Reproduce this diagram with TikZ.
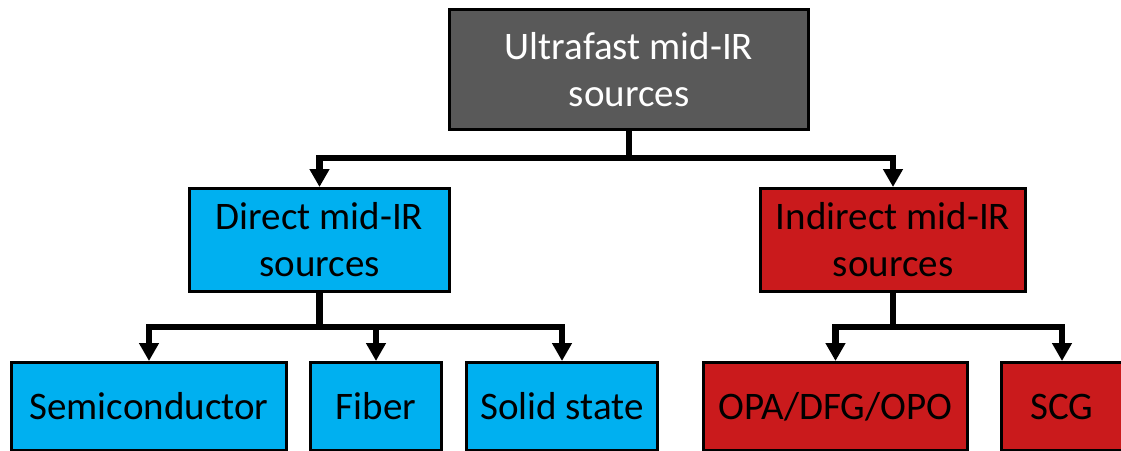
\documentclass[tikz,border=0pt]{standalone}
\usepackage{fontspec}
\setmainfont{Carlito}
\usetikzlibrary{arrows.meta}
\definecolor{topgray}{HTML}{595959}
\definecolor{dirblue}{HTML}{00B0F0}
\definecolor{indred}{HTML}{CA1A1C}
\tikzset{
  box/.style={draw=black, line width=3pt, inner sep=0pt, align=center,
    font=\fontsize{39}{47}\selectfont},
  conn/.style={line width=6.5pt, -{Triangle[width=19pt,length=18pt]}},
  plain/.style={line width=6.5pt}
}
\begin{document}
\begin{tikzpicture}[x=1pt,y=-1pt]
\useasboundingbox (0,0) rectangle (1121,450);
\clip (0,0) rectangle (1121,450);
\node[box, fill=topgray, text=white, minimum width=359pt, minimum height=120pt] (top) at (629,69.5) {Ultrafast mid-IR\\sources};
\node[box, fill=dirblue, minimum width=260pt, minimum height=103pt] (direct) at (319.5,240) {Direct mid-IR\\sources};
\node[box, fill=indred, minimum width=265pt, minimum height=103pt] (indirect) at (893,240) {Indirect mid-IR\\sources};
\node[box, fill=dirblue, minimum width=275pt, minimum height=88pt] (semi) at (149,406.5) {Semiconductor};
\node[box, fill=dirblue, minimum width=131pt, minimum height=88pt] (fiber) at (376,406.5) {Fiber};
\node[box, fill=dirblue, minimum width=191pt, minimum height=88pt] (solid) at (562,406.5) {Solid state};
\node[box, fill=indred, minimum width=264pt, minimum height=88pt] (opa) at (835.5,406.5) {OPA/DFG/OPO};
\node[box, fill=indred, minimum width=121pt, minimum height=88pt] (scg) at (1062,406.5) {SCG};
% top level
\coordinate (j1) at (629,158);
\draw[plain] (top.south) -- (j1);
\draw[conn] ([xshift=3.25pt]j1) -| (direct.north);
\draw[conn] ([xshift=-3.25pt]j1) -| (indirect.north);
% direct
\coordinate (j2) at (319.5,327);
\draw[plain] (direct.south) -- (j2);
\draw[conn] ([xshift=3.25pt]j2) -| (semi.north);
\draw[conn] (j2) -| (fiber.north);
\draw[conn] ([xshift=-3.25pt]j2) -| (solid.north);
% indirect
\coordinate (j3) at (893,327);
\draw[plain] (indirect.south) -- (j3);
\draw[conn] ([xshift=3.25pt]j3) -| (opa.north);
\draw[conn] ([xshift=-3.25pt]j3) -| (scg.north);
\end{tikzpicture}
\end{document}
